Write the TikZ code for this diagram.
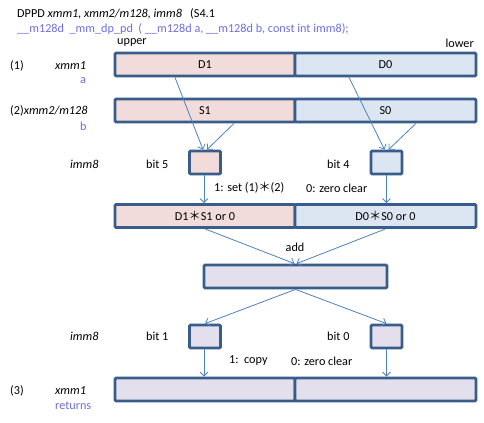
\documentclass[tikz,border=0pt]{standalone}
\usepackage{fontspec}
\setmainfont{Carlito}
\newfontfamily\cjk{Noto Sans CJK JP}
\usetikzlibrary{calc,arrows.meta}
\definecolor{bordc}{RGB}{56,93,138}
\definecolor{arrc}{RGB}{79,129,189}
\definecolor{pinkf}{RGB}{242,220,219}
\definecolor{bluef}{RGB}{220,230,242}
\definecolor{lavf}{RGB}{228,223,236}
\definecolor{protoc}{RGB}{110,110,225}
\newcommand{\myast}{{\cjk ＊}}
\begin{document}
\begin{tikzpicture}[x=1bp,y=-1bp,
  every node/.style={font=\fontsize{12.2bp}{14bp}\selectfont, inner sep=0pt},
  box/.style={draw=bordc, line width=2.8bp, rounded corners=1.2bp, minimum height=23bp},
  bitbox/.style={box, minimum width=31bp},
  lbl/.style={anchor=west},
  proto/.style={text=protoc},
  arr/.style={draw=arrc, line width=0.8bp, -{Straight Barb[length=4bp,width=8bp]}}
]
\useasboundingbox (0,0) rectangle (484,422);

% header
\node[lbl] (t1) at (17,14) {DPPD \textit{xmm1, xmm2/m128, imm8}\ \ \ (S4.1};
\node[lbl,proto] (t2) at (17,29.5) {\_\_m128d\ \ \_mm\_dp\_pd\ \ ( \_\_m128d a, \_\_m128d b, const int imm8);};
\node[lbl] (up) at (117,43) {upper};
\node[anchor=east] (lo) at (474,43) {lower};

% row 1
\node[box, fill=pinkf, minimum width=180bp] (d1) at (205,64.5) {D1};
\node[box, fill=bluef, minimum width=181bp] (d0) at (385.5,64.5) {D0};
\node[lbl] (l1) at (10,66) {(1)};
\node[lbl] (x1) at (55,66) {\textit{xmm1}};
\node[lbl,proto] (a) at (80,81) {a};

% row 2
\node[box, fill=pinkf, minimum width=180bp] (s1) at (205,110.5) {S1};
\node[box, fill=bluef, minimum width=181bp] (s0) at (385.5,110.5) {S0};
\node[lbl] (l2) at (10,111) {(2)\textit{xmm2/m128}};
\node[lbl,proto] (b) at (80,126) {b};

% imm8 bits 5,4
\node[lbl] (i1) at (70,164) {\textit{imm8}};
\node[lbl] (bt5) at (146,164) {bit 5};
\node[lbl] (bt4) at (327,164) {bit 4};
\node[bitbox, fill=pinkf] (b5) at (205,162.5) {};
\node[bitbox, fill=bluef] (b4) at (386.5,162.5) {};
\node[lbl] (set) at (214,188) {1: set (1)\myast(2)};
\node[lbl] (zc1) at (306,188) {0: zero clear};

% row 3
\node[box, fill=pinkf, minimum width=180bp] (m1) at (205,216) {D1\myast S1 or 0};
\node[box, fill=bluef, minimum width=181bp] (m0) at (385.5,216) {D0\myast S0 or 0};

% add
\node (addl) at (295,247) {add};
\node[box, fill=lavf, minimum width=183bp] (sum) at (295.5,276.5) {};

% imm8 bits 1,0
\node[lbl] (i2) at (70,336) {\textit{imm8}};
\node[lbl] (bt1) at (146,336) {bit 1};
\node[lbl] (bt0) at (327,336) {bit 0};
\node[bitbox, fill=lavf] (b1) at (205,336.5) {};
\node[bitbox, fill=lavf] (b0) at (386.5,336.5) {};
\node[lbl] (cp) at (229,361) {1:\ \ copy};
\node[lbl] (zc2) at (291,361) {0: zero clear};

% row 5
\node[box, fill=lavf, minimum width=180bp] (r1) at (205,389.5) {};
\node[box, fill=lavf, minimum width=181bp] (r0) at (385.5,389.5) {};
\node[lbl] (l3) at (10,391) {(3)};
\node[lbl] (x3) at (55,391) {\textit{xmm1}};
\node[lbl,proto] (ret) at (55,406) {returns};

% connectors
\draw[arr] ([xshift=-30bp]d1.south) -- ([xshift=-2bp]b5.north);
\draw[arr] ([xshift=29bp]s1.south) -- ([xshift=2bp]b5.north);
\draw[arr] ([xshift=-36.5bp]d0.south) -- ([xshift=-2bp]b4.north);
\draw[arr] ([xshift=30.5bp]s0.south) -- ([xshift=2bp]b4.north);
\draw[arr] ([xshift=-1bp]b5.south) -- ([xshift=-1bp]b5.south |- m1.north);
\draw[arr] (b4.south) -- (b4.south |- m0.north);
\draw[arr] (m1.south) -- ([xshift=-1bp]sum.north);
\draw[arr] (m0.south) -- ([xshift=1bp]sum.north);
\draw[arr] (sum.south) -- (b1.north);
\draw[arr] (sum.south) -- (b0.north);
\draw[arr] ([xshift=-1bp]b1.south) -- ([xshift=-1bp]b1.south |- r1.north);
\draw[arr] (b0.south) -- (b0.south |- r0.north);
\end{tikzpicture}
\end{document}
